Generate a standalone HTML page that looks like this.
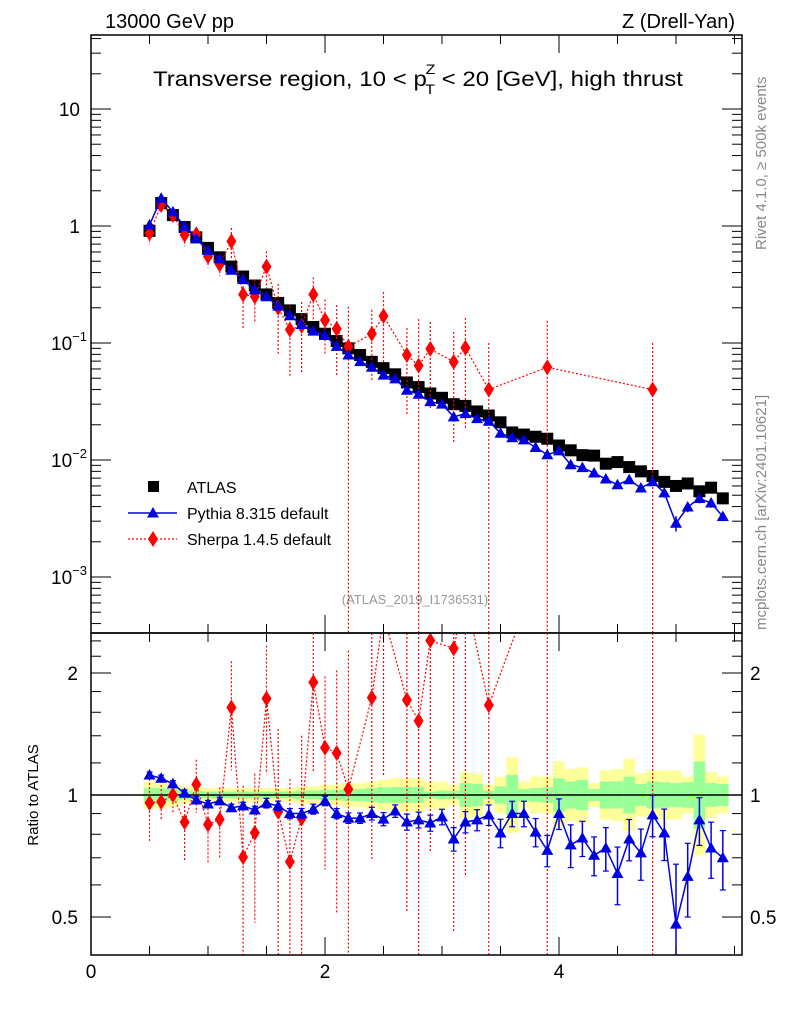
<!DOCTYPE html>
<html><head><meta charset="utf-8">
<style>
html,body{margin:0;padding:0;background:#fff;overflow:hidden;width:786px;height:1024px;}
svg{display:block;font-family:"Liberation Sans",Arial,sans-serif;}
</style></head>
<body>
<svg id="chart" width="786" height="1024" viewBox="0 0 786 1024">
<text x="105" y="28" font-size="20">13000 GeV pp</text>
<text x="735" y="28" font-size="20" text-anchor="end">Z (Drell-Yan)</text>
<text x="418" y="86" font-size="21" text-anchor="middle" textLength="530" lengthAdjust="spacingAndGlyphs">Transverse region, 10 &lt; p<tspan font-size="14" dy="-12" dx="-1">Z</tspan><tspan font-size="14" dy="20" dx="-9">T</tspan><tspan dy="-8"> &lt; 20 [GeV], high thrust</tspan></text>
<text transform="translate(766,250) rotate(-90)" font-size="15" fill="#888">Rivet 4.1.0, ≥ 500k events</text>
<text transform="translate(766,630) rotate(-90)" font-size="15" fill="#888">mcplots.cern.ch [arXiv:2401.10621]</text>
<text x="415" y="604" font-size="13" fill="#999" text-anchor="middle">(ATLAS_2019_I1736531)</text>
<text transform="translate(38,795) rotate(-90)" font-size="15" text-anchor="middle">Ratio to ATLAS</text>
<g id="g"></g>
</svg>
<script>
const xs = [0.5,0.6,0.7,0.8,0.9,1.0,1.1,1.2,1.3,1.4,1.5,1.6,1.7,1.8,1.9,2.0,2.1,2.2,2.3,2.4,2.5,2.6,2.7,2.8,2.9,3.0,3.1,3.2,3.3,3.4,3.5,3.6,3.7,3.8,3.9,4.0,4.1,4.2,4.3,4.4,4.5,4.6,4.7,4.8,4.9,5.0,5.1,5.2,5.3,5.4];
const atlas = [0.91,1.57,1.24,0.98,0.80,0.65,0.54,0.45,0.37,0.31,0.26,0.22,0.19,0.16,0.137,0.12,0.104,0.09,0.079,0.069,0.061,0.054,0.046,0.042,0.037,0.034,0.030,0.029,0.026,0.024,0.021,0.0172,0.0165,0.0158,0.0152,0.0133,0.0121,0.0110,0.0109,0.0093,0.0096,0.0087,0.0080,0.0073,0.0065,0.0060,0.0063,0.0054,0.0058,0.0047];
const pythiaRatio = [1.12,1.10,1.065,1.01,0.972,0.95,0.967,0.93,0.94,0.918,0.955,0.94,0.90,0.90,0.923,0.967,0.90,0.877,0.877,0.90,0.872,0.913,0.858,0.868,0.853,0.883,0.779,0.858,0.868,0.893,0.806,0.90,0.90,0.81,0.73,0.90,0.753,0.783,0.71,0.74,0.64,0.779,0.72,0.893,0.806,0.48,0.63,0.868,0.74,0.70];
const pythiaErr = [0.015,0.015,0.015,0.015,0.015,0.015,0.015,0.015,0.015,0.015,0.02,0.02,0.02,0.02,0.02,0.02,0.02,0.02,0.02,0.025,0.025,0.025,0.03,0.03,0.03,0.03,0.04,0.04,0.04,0.04,0.05,0.05,0.05,0.05,0.05,0.06,0.07,0.06,0.06,0.07,0.08,0.07,0.08,0.08,0.09,0.15,0.1,0.09,0.09,0.09];
const sherpaX = [0.5,0.6,0.7,0.8,0.9,1.0,1.1,1.2,1.3,1.4,1.5,1.6,1.7,1.8,1.9,2.0,2.1,2.2,2.4,2.5,2.7,2.8,2.9,3.1,3.2,3.4,3.9,4.8];
const sherpa = [0.87,1.51,1.24,0.84,0.85,0.55,0.47,0.74,0.26,0.25,0.45,0.20,0.13,0.14,0.26,0.157,0.132,0.093,0.12,0.17,0.079,0.064,0.089,0.069,0.091,0.040,0.062,0.040];
const sherpaErr = [0.2,0.1,0.1,0.2,0.15,0.2,0.2,0.3,0.5,0.4,0.35,0.6,0.6,0.6,0.4,0.5,0.6,1.2,0.6,0.6,0.7,1.5,0.7,0.8,0.8,1.5,1.5,1.5];
const bandYellow = [1.08,1.08,1.07,1.05,1.05,1.04,1.04,1.04,1.04,1.04,1.04,1.04,1.04,1.05,1.05,1.06,1.06,1.07,1.07,1.08,1.09,1.10,1.10,1.10,1.08,1.08,1.06,1.14,1.13,1.06,1.11,1.24,1.08,1.11,1.11,1.21,1.16,1.17,1.07,1.15,1.16,1.23,1.13,1.15,1.15,1.15,1.11,1.41,1.14,1.11];
const bandGreen = [1.04,1.04,1.035,1.025,1.025,1.02,1.02,1.02,1.02,1.02,1.02,1.02,1.02,1.025,1.025,1.03,1.03,1.035,1.035,1.04,1.045,1.046,1.046,1.046,1.02,1.025,1.025,1.07,1.065,1.025,1.05,1.12,1.035,1.04,1.045,1.10,1.08,1.09,1.035,1.08,1.08,1.11,1.065,1.08,1.075,1.07,1.075,1.21,1.07,1.065];
const xTickLabels = [0,2,4];
const topTickLabels = [1,0,-1,-2,-3];
const ratioTickLabels = [0.5,1,2];

const NS="http://www.w3.org/2000/svg";
const g=document.getElementById('g');
const L=91,R=742,T=35,MID=633,B=955;
const X=v=>L+v*117;
const cl=(y,a,b)=>Math.max(a,Math.min(b,y));
const YT=v=>226-Math.log10(v)*117;
const YR=v=>795-Math.log2(v)*122;
const YTc=v=>cl(YT(v),T,MID);
const YRc=v=>cl(YR(v),MID,B);
function el(t,a,p){const e=document.createElementNS(NS,t);for(const k in a)e.setAttribute(k,a[k]);(p||g).appendChild(e);return e;}
const clipT=el('clipPath',{id:'ct'});el('rect',{x:L,y:T,width:R-L,height:MID-T},clipT);
const clipR=el('clipPath',{id:'cr'});el('rect',{x:L,y:MID,width:R-L,height:B-MID},clipR);
const gt=el('g',{'clip-path':'url(#ct)'});


const gr=el('g',{'clip-path':'url(#cr)'});



xs.forEach((x,i)=>{
  const x0=X(x-0.05),w=117*0.1;
  const y=el('rect',{x:x0,y:YR(bandYellow[i]),width:w,height:YR(1/bandYellow[i])-YR(bandYellow[i]),fill:'#ffff99'},gr);
  
  
  const gg=el('rect',{x:x0,y:YR(bandGreen[i]),width:w,height:YR(1/bandGreen[i])-YR(bandGreen[i]),fill:'#99ff99'},gr);
  
  
});
el('line',{x1:L,x2:R,y1:YR(1),y2:YR(1),stroke:'#000','stroke-width':1.5},gr);

function tri(p,cx,cy,s){return el('polygon',{points:`${cx},${cy-s} ${cx-s},${cy+s*0.75} ${cx+s},${cy+s*0.75}`,fill:'#0000e0'},p);}
function dia(p,cx,cy){return el('polygon',{points:`${cx},${cy-8} ${cx+5},${cy} ${cx},${cy+8} ${cx-5},${cy}`,fill:'#f00'},p);}

xs.forEach((x,i)=>{
  const r=el('rect',{x:X(x)-6,y:YT(atlas[i])-6,width:12,height:12,fill:'#000'},gt);
  
  
});
const sIdx=sherpaX.map(x=>xs.findIndex(v=>Math.abs(v-x)<1e-6));
el('polyline',{points:sherpaX.map((x,i)=>X(x)+','+YT(sherpa[i])).join(' '),fill:'none',stroke:'#f00','stroke-width':1.2,'stroke-dasharray':'2,2'},gt);
sherpaX.forEach((x,i)=>{
  const lo=sherpaErr[i]>=1?1e-5:sherpa[i]*(1-sherpaErr[i]),hi=sherpa[i]*(1+sherpaErr[i]);
  el('line',{x1:X(x),x2:X(x),y1:YTc(hi),y2:YTc(lo),stroke:'#f00','stroke-width':1.2,'stroke-dasharray':'2,2'},gt);
  const d=dia(gt,X(x),YT(sherpa[i]));
  
  
});
const pyth=xs.map((x,i)=>atlas[i]*pythiaRatio[i]);
el('polyline',{points:xs.map((x,i)=>X(x)+','+YT(pyth[i])).join(' '),fill:'none',stroke:'#0000e0','stroke-width':1.5},gt);
xs.forEach((x,i)=>{
  const e=pythiaErr[i];
  el('line',{x1:X(x),x2:X(x),y1:YT(pyth[i]*(1+e)),y2:YT(pyth[i]*(1-e)),stroke:'#0000e0','stroke-width':1.5},gt);
  const t=tri(gt,X(x),YT(pyth[i]),6);
  
  
});
const sr=sherpaX.map((x,i)=>sherpa[i]/atlas[sIdx[i]]);
el('polyline',{points:sherpaX.map((x,i)=>X(x)+','+YR(sr[i])).join(' '),fill:'none',stroke:'#f00','stroke-width':1.2,'stroke-dasharray':'2,2'},gr);
sherpaX.forEach((x,i)=>{
  const lo=sherpaErr[i]>=1?0.01:sr[i]*(1-sherpaErr[i]),hi=sr[i]*(1+sherpaErr[i]);
  el('line',{x1:X(x),x2:X(x),y1:YRc(hi),y2:YRc(lo),stroke:'#f00','stroke-width':1.2,'stroke-dasharray':'2,2'},gr);
  const d=dia(gr,X(x),YR(sr[i]));
  
  
});
el('polyline',{points:xs.map((x,i)=>X(x)+','+YR(pythiaRatio[i])).join(' '),fill:'none',stroke:'#0000e0','stroke-width':1.5},gr);
xs.forEach((x,i)=>{
  const r=pythiaRatio[i],e=pythiaErr[i]*1.3;
  el('line',{x1:X(x),x2:X(x),y1:YRc(r+e),y2:YRc(r-e),stroke:'#0000e0','stroke-width':1.5},gr);
  el('line',{x1:X(x)-3,x2:X(x)+3,y1:YRc(r+e),y2:YRc(r+e),stroke:'#0000e0','stroke-width':1.2},gr);
  el('line',{x1:X(x)-3,x2:X(x)+3,y1:YRc(r-e),y2:YRc(r-e),stroke:'#0000e0','stroke-width':1.2},gr);
  const t=tri(gr,X(x),YR(r),6);
  
  
});

[[T,MID],[MID,B]].forEach(([a,b])=>{el('rect',{x:L,y:a,width:R-L,height:b-a,fill:'none',stroke:'#000','stroke-width':1.5});});
for(let v=0;v<=5.5;v+=0.5){
  const maj=Math.abs(v%2)<1e-6,len=maj?18:9,x=X(v);
  [[T,1],[MID,-1],[MID,1],[B,-1]].forEach(([y,d])=>el('line',{x1:x,x2:x,y1:y,y2:y+d*len,stroke:'#000','stroke-width':1}));
}
xTickLabels.forEach(v=>{const t=el('text',{x:X(v),y:978,'font-size':19,'text-anchor':'middle'});t.textContent=v;
  
  });
for(let d=-4;d<=1;d++)for(let m=1;m<=9;m++){
  const v=m*Math.pow(10,d),y=YT(v);if(y<T||y>MID)continue;
  const len=m==1?20:10;
  el('line',{x1:L,x2:L+len,y1:y,y2:y,stroke:'#000'});el('line',{x1:R,x2:R-len,y1:y,y2:y,stroke:'#000'});
}
topTickLabels.forEach(d=>{
  const y=YT(Math.pow(10,d));
  const t=el('text',{x:80,y:y+7,'font-size':19,'text-anchor':'end'});
  
  
  if(d>=0)t.textContent=Math.pow(10,d);
  else{t.textContent='10';const s=el('tspan',{'font-size':13,dy:-9},t);s.textContent=String(d).replace('-','−');t.setAttribute('x',87);}
});
[0.4,0.5,0.6,0.7,0.8,0.9,1,1.2,1.4,1.6,1.8,2,2.2,2.4].forEach(v=>{
  const y=YR(v);if(y<MID||y>B)return;const len=(v==0.5||v==1||v==2)?20:10;
  el('line',{x1:L,x2:L+len,y1:y,y2:y,stroke:'#000'});el('line',{x1:R,x2:R-len,y1:y,y2:y,stroke:'#000'});
});
ratioTickLabels.forEach(v=>{
  const t=el('text',{x:78,y:YR(v)+7,'font-size':19,'text-anchor':'end'});t.textContent=v;
  
  
  const t2=el('text',{x:750,y:YR(v)+7,'font-size':19});t2.textContent=v;
  
  
});
const lg=el('g',{});


el('rect',{x:148,y:481,width:11,height:11,fill:'#000'},lg);
el('line',{x1:128,x2:177,y1:513,y2:513,stroke:'#0000e0','stroke-width':1.5},lg);
tri(lg,153,513,6);
el('line',{x1:128,x2:177,y1:539,y2:539,stroke:'#f00','stroke-width':1.2,'stroke-dasharray':'2,2'},lg);
dia(lg,153,539);
[['ATLAS',493],['Pythia 8.315 default',519],['Sherpa 1.4.5 default',545]].forEach(([s,y])=>{
  const t=el('text',{x:187,y:y,'font-size':16},lg);t.textContent=s;
  
  
});
</script>
</body></html>
